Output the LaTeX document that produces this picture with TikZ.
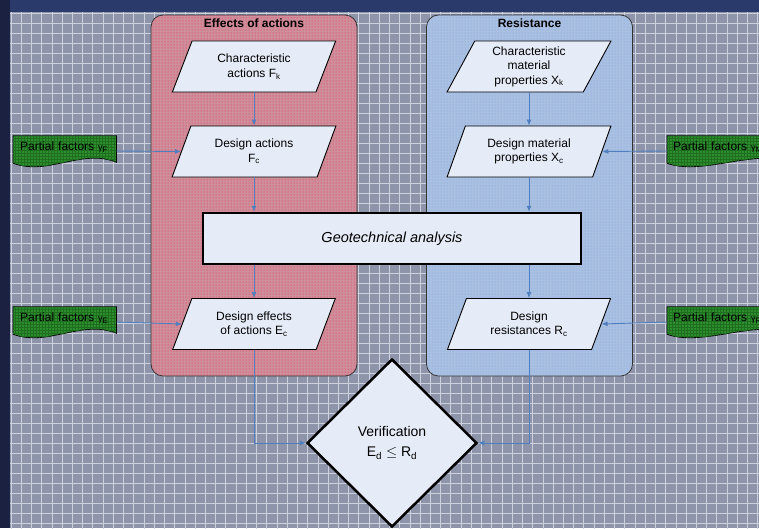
\documentclass[tikz,border=0pt]{standalone}
\usepackage{fontspec}
\setmainfont{Liberation Sans}
\usetikzlibrary{shapes.geometric,arrows.meta,calc,patterns}
\pgfdeclarelayer{bg}
\pgfdeclarelayer{pfl}
\pgfsetlayers{bg,pfl,main}
\definecolor{bgbase}{HTML}{8E94AA}
\definecolor{gridcol}{HTML}{CDD1DD}
\definecolor{navytop}{HTML}{2A3A6A}
\definecolor{navyleft}{HTML}{1B2140}
\definecolor{redbase}{HTML}{CE8E9C}
\definecolor{reddot}{HTML}{E8283C}
\definecolor{bluebase}{HTML}{A9C0E3}
\definecolor{bluedot}{HTML}{7FA3D6}
\definecolor{boxfill}{HTML}{E6ECF7}
\definecolor{arrowblue}{HTML}{4F7FBF}
\definecolor{pfgreen}{HTML}{2C8E2D}
\definecolor{pfdot}{HTML}{1F6E20}
\begin{document}
\begin{tikzpicture}[x=1pt,y=-1pt,
  gridline/.style={draw=gridcol,line width=0.8pt},
  panel/.style={rectangle,rounded corners=12pt,draw=black!80,line width=0.8pt,minimum width=206pt,minimum height=361pt,inner sep=0pt},
  redpanel/.style={panel,fill=redbase,postaction={pattern=dots,pattern color=reddot}},
  bluepanel/.style={panel,fill=bluebase,postaction={pattern=dots,pattern color=bluedot}},
  ptitle/.style={font=\fontsize{12}{14}\selectfont\bfseries,inner sep=0pt},
  para/.style={trapezium,trapezium left angle=65,trapezium right angle=115,trapezium stretches=true,
    minimum width=164pt,minimum height=51pt,inner sep=0pt,draw=black,line width=0.9pt,fill=boxfill,
    align=center,font=\fontsize{12}{14.5}\selectfont},
  geo/.style={rectangle,draw=black,line width=2.5pt,fill=boxfill,minimum width=378pt,minimum height=51pt,
    font=\fontsize{14.5}{17}\selectfont\itshape},
  verif/.style={diamond,draw=black,line width=2.5pt,fill=boxfill,minimum width=170pt,minimum height=168pt,
    inner sep=0pt,align=center,font=\fontsize{14}{20}\selectfont},
  pf/.style={rectangle,anchor=west,align=left,minimum height=30pt,text height=9pt,text depth=10pt,
    font=\fontsize{12}{14}\selectfont},
  pfdraw/.style={draw=black,line width=0.8pt,fill=pfgreen,postaction={pattern=grid,pattern color=pfdot}},
  conn/.style={draw=arrowblue,line width=0.9pt,-{Latex[length=6pt,width=5pt]}}]
\useasboundingbox (0,0) rectangle (759,528);
\clip (0,0) rectangle (759,528);
% background
\begin{pgfonlayer}{bg}
\fill[bgbase] (0,0) rectangle (759,528);
\foreach \i in {0,...,73} \draw[gridline] ({11+10.23*\i},12) -- ++(0,520);
\foreach \j in {0,...,52} \draw[gridline] (10,{13.3+10*\j}) -- ++(760,0);
\fill[navytop] (0,0) rectangle (759,12);
\fill[navyleft] (0,0) rectangle (10,528);
\end{pgfonlayer}
% panels
\node[redpanel] (redp) at (254,195.5) {};
\node[bluepanel] (bluep) at (529.5,195.5) {};
\node[ptitle] (redt) at (254,23) {Effects of actions};
\node[ptitle] (bluet) at (529.5,23) {Resistance};
% parallelograms
\node[para] (p1) at (254,66.5) {Characteristic\\actions F\textsubscript{k}};
\node[para] (p2) at (254,151.5) {Design actions\\F\textsubscript{c}};
\node[para] (p3) at (254,324) {Design effects\\of actions E\textsubscript{c}};
\node[para] (q1) at (529,66.5) {Characteristic\\material\\properties X\textsubscript{k}};
\node[para] (q2) at (529,151.5) {Design material\\properties X\textsubscript{c}};
\node[para] (q3) at (529,324) {Design\\resistances R\textsubscript{c}};
% analysis and verification
\node[geo] (geo) at (392,238.5) {Geotechnical analysis};
\node[verif] (ver) at (392,443) {Verification\\E\textsubscript{d} $\leq$ R\textsubscript{d}};
% partial factor boxes
\node[pf,text width=89pt,inner xsep=7pt] (pf1) at (13,151) {Partial factors {\fontsize{9}{9}\selectfont γ}\textsubscript{F}};
\node[pf,text width=89pt,inner xsep=7pt] (pf2) at (13,322) {Partial factors {\fontsize{9}{9}\selectfont γ}\textsubscript{E}};
\node[pf,text width=111pt,inner xsep=6pt] (pf3) at (667,151) {Partial factors {\fontsize{9}{9}\selectfont γ}\textsubscript{M}};
\node[pf,text width=111pt,inner xsep=6pt] (pf4) at (667,322) {Partial factors {\fontsize{9}{9}\selectfont γ}\textsubscript{R}};
\begin{pgfonlayer}{pfl}
\foreach \b in {pf1,pf2,pf3,pf4} {
  \draw[pfdraw] (\b.north west) -- (\b.north east) -- ($(\b.south east)+(0,-4)$)
    .. controls ($(\b.south east)+(-35,-18)$) and ($(\b.south west)+(35,10)$) .. ($(\b.south west)+(0,-3)$) -- cycle;
}
\end{pgfonlayer}
% connectors
\draw[conn] (p1.south -| p1.center) -- (p2.north -| p1.center);
\draw[conn] (p2.south -| p2.center) -- (geo.north -| p2.center);
\draw[conn] (geo.south -| p3.center) -- (p3.north -| p3.center);
\draw[conn] (p3.south -| p3.center) |- (ver.west);
\draw[conn] (q1.south -| q1.center) -- (q2.north -| q1.center);
\draw[conn] (q2.south -| q2.center) -- (geo.north -| q2.center);
\draw[conn] (geo.south -| q3.center) -- (q3.north -| q3.center);
\draw[conn] (q3.south -| q3.center) |- (ver.east);
\draw[conn] (pf1.east) -- (p2.left side);
\draw[conn] (pf2.east) -- (p3.left side);
\draw[conn] (pf3.west) -- (q2.right side);
\draw[conn] (pf4.west) -- (q3.right side);
\end{tikzpicture}
\end{document}
